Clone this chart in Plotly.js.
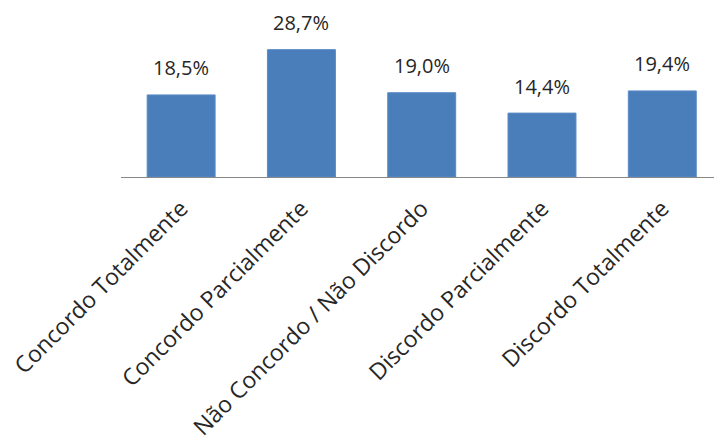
<!DOCTYPE html>
<html>
<head>
<meta charset="utf-8">
<script src="https://cdn.plot.ly/plotly-3.0.1.min.js"></script>
<style>html,body{margin:0;padding:0;background:#fff;}#chart{width:714px;height:437px;}</style>
</head>
<body>
<div id="chart"></div>
<script>
const categories = ["Concordo Totalmente", "Concordo Parcialmente", "Não Concordo / Não Discordo", "Discordo Parcialmente", "Discordo Totalmente"];
const values = [18.5, 28.7, 19.0, 14.4, 19.4];
const valueLabels = ["18,5%", "28,7%", "19,0%", "14,4%", "19,4%"];

const trace = {
  type: 'bar',
  x: categories,
  y: values,
  marker: {color: '#4A7EBB', line: {color: '#5B8BC6', width: 1}},
  hoverinfo: 'none'
};

const annotations = categories.map((c, i) => ({
  x: c, y: values[i], xref: 'x', yref: 'y',
  text: valueLabels[i], showarrow: false,
  yanchor: 'middle', yshift: 27,
  font: {family: 'Open Sans, sans-serif', size: 20, color: '#262626'}
}));

const layout = {
  width: 714, height: 437,
  margin: {l: 121, r: 0, t: 35, b: 260, pad: 0},
  paper_bgcolor: '#fff', plot_bgcolor: '#fff',
  showlegend: false,
  bargap: 0.435,
  xaxis: {
    range: [-0.5, 4.43],
    showline: true, linecolor: '#888', linewidth: 1,
    showgrid: false, zeroline: false,
    ticks: '', tickangle: -45, ticklabelstandoff: 8,
    tickfont: {family: 'Open Sans, sans-serif', size: 23, color: '#262626'}
  },
  yaxis: {
    range: [0, 32], visible: false, showgrid: false, zeroline: false
  },
  annotations: annotations
};

Plotly.newPlot('chart', [trace], layout, {displayModeBar: false, staticPlot: true});
</script>
</body>
</html>
